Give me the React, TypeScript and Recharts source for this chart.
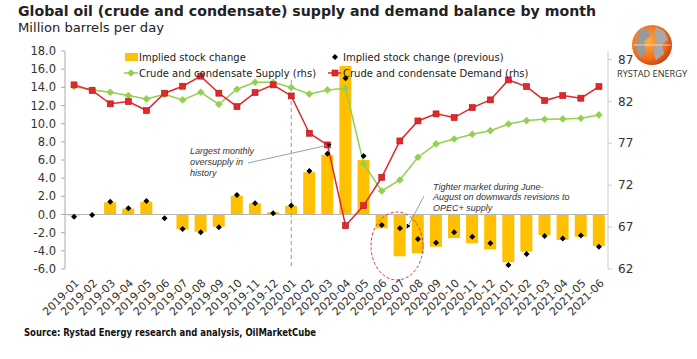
import React from "react";
import { ComposedChart, Bar, Line, XAxis, YAxis, ReferenceLine } from "recharts";

const months = [
  "2019-01", "2019-02", "2019-03", "2019-04", "2019-05", "2019-06",
  "2019-07", "2019-08", "2019-09", "2019-10", "2019-11", "2019-12",
  "2020-01", "2020-02", "2020-03", "2020-04", "2020-05", "2020-06",
  "2020-07", "2020-08", "2020-09", "2020-10", "2020-11", "2020-12",
  "2021-01", "2021-02", "2021-03", "2021-04", "2021-05", "2021-06",
];

// million barrels per day, left axis
const stockChange = [
  -0.1, 0.0, 1.35, 0.65, 1.4, -0.05, -1.63, -1.9, -1.34, 2.07, 1.23, 0.25,
  0.94, 4.65, 6.55, 16.35, 6.0, -1.52, -4.6, -4.27, -3.55, -2.6, -3.17, -3.83,
  -5.27, -4.1, -2.26, -2.8, -2.44, -3.47,
];
const prevStockChange = [
  -0.25, -0.05, 1.4, 0.7, 1.5, -0.4, -1.6, -1.95, -1.4, 2.15, 1.25, 0.15,
  1.0, 4.8, 6.7, 15.0, 6.45, -1.16, -1.5, -2.7, -3.1, -1.96, -2.44, -3.17,
  -5.56, -4.35, -2.37, -2.63, -2.3, -3.55,
];

// right axis
const supply = [
  83.76, 83.36, 83.08, 82.68, 82.29, 82.84, 82.17, 83.08, 81.65, 83.44, 84.27, 84.27,
  83.64, 82.88, 83.36, 83.56, 74.53, 71.31, 72.62, 75.33, 76.92, 77.51, 78.07, 78.5,
  79.3, 79.7, 79.86, 79.9, 79.98, 80.38,
];
const demand = [
  83.96, 83.3, 81.7, 81.97, 80.9, 82.97, 83.8, 85.0, 82.97, 81.37, 83.04, 83.96,
  82.64, 78.19, 76.8, 67.17, 69.56, 72.94, 77.27, 79.66, 80.5, 80.06, 81.25, 82.17,
  84.55, 83.76, 82.09, 82.68, 82.37, 83.76,
];

const leftTicks = [-6, -4, -2, 0, 2, 4, 6, 8, 10, 12, 14, 16, 18];
const rightTicks = [62, 67, 72, 77, 82, 87];

const data = months.map((m, i) => ({
  month: m,
  stock: stockChange[i],
  prev: prevStockChange[i],
  supply: supply[i],
  demand: demand[i],
}));

const FONT = "'DejaVu Sans', Verdana, sans-serif";
const ARIAL = "'Liberation Sans', Arial, sans-serif";
const GOLD = "#FFC000";
const GREEN = "#92D050";
const RED = "#E3262A";

const diamond = (cx: number, cy: number, r: number) =>
  `M${cx},${cy - r} L${cx + r},${cy} L${cx},${cy + r} L${cx - r},${cy} Z`;

const SupplyDot = (props: any) => {
  const { cx, cy, index } = props;
  if (cx == null || cy == null) return <g key={index} />;
  return <path key={index} d={diamond(cx, cy, 3.8)} fill={GREEN} />;
};

const DemandDot = (props: any) => {
  const { cx, cy, index } = props;
  if (cx == null || cy == null) return <g key={index} />;
  return (
    <rect key={index} x={cx - 3} y={cy - 3} width={6} height={6} fill={RED} stroke="#B01818" strokeWidth={0.6} />
  );
};

const PrevDot = (props: any) => {
  const { cx, cy, index } = props;
  if (cx == null || cy == null) return <g key={index} />;
  return <path key={index} d={diamond(cx, cy, 3)} fill="#000" />;
};

const MonthTick = (props: any) => {
  const { x, y, payload } = props;
  return (
    <g transform={`translate(${x + 3},${y + 4})`}>
      <text transform="rotate(-45)" textAnchor="end" dy="0.35em" fontSize={11} fill="#333" fontFamily={FONT}>
        {payload.value}
      </text>
    </g>
  );
};

const Overlay = () => (
  <svg width={697} height={359} style={{ position: "absolute", left: 0, top: 0, pointerEvents: "none" }}>
    <defs>
      <marker id="arr" viewBox="0 0 6 6" refX="5" refY="3" markerWidth="5" markerHeight="5" orient="auto">
        <path d="M0,0 L6,3 L0,6 Z" fill="#000" />
      </marker>
      <radialGradient id="globe" cx="40%" cy="40%" r="65%">
        <stop offset="0%" stopColor="#FBB040" />
        <stop offset="70%" stopColor="#F26B1D" />
        <stop offset="100%" stopColor="#C0400A" />
      </radialGradient>
    </defs>

    <text x={18} y={16} fontSize={14.5} fontWeight="bold" fill="#222" fontFamily={FONT} textLength={578} lengthAdjust="spacingAndGlyphs">
      Global oil (crude and condensate) supply and demand balance by month
    </text>
    <text x={18} y={32} fontSize={12} fill="#222" fontFamily={FONT} textLength={146} lengthAdjust="spacingAndGlyphs">
      Million barrels per day
    </text>

    {/* legend */}
    <rect x={125} y={53} width={13} height={8} fill={GOLD} />
    <text x={139} y={60.5} fontSize={10} fill="#222" fontFamily={FONT}>Implied stock change</text>
    <line x1={124} y1={73} x2={138} y2={73} stroke={GREEN} strokeWidth={1.5} />
    <path d={diamond(131, 73, 3.8)} fill={GREEN} />
    <text x={139} y={76.5} fontSize={10} fill="#222" fontFamily={FONT}>Crude and condensate Supply (rhs)</text>
    <path d={diamond(335, 57, 3)} fill="#000" />
    <text x={343} y={60.5} fontSize={10} fill="#222" fontFamily={FONT}>Implied stock change (previous)</text>
    <line x1={328} y1={73} x2={341} y2={73} stroke={RED} strokeWidth={1.5} />
    <rect x={332} y={70} width={6} height={6} fill={RED} stroke="#B01818" strokeWidth={0.6} />
    <text x={343} y={76.5} fontSize={10} fill="#222" fontFamily={FONT}>Crude and condensate Demand (rhs)</text>

    {/* annotations */}
    <g fontFamily={ARIAL} fontStyle="italic" fontSize={9} fill="#333">
      <text x={190} y={153.5}>Largest monthly</text>
      <text x={190} y={164.5}>oversupply in</text>
      <text x={190} y={175.5}>history</text>
      <text x={433} y={189.5}>Tighter market during June-</text>
      <text x={433} y={200}>August on downwards revisions to</text>
      <text x={433} y={210.5}>OPEC+ supply</text>
    </g>
    <line x1={248} y1={163} x2={331} y2={144.5} stroke="#8A97A8" strokeWidth={0.9} markerEnd="url(#arr)" />
    <line x1={424} y1={196} x2={407} y2={228} stroke="#8A97A8" strokeWidth={0.9} markerEnd="url(#arr)" />
    <ellipse cx={397} cy={246} rx={26} ry={34} fill="none" stroke="#D0393B" strokeWidth={1} strokeDasharray="3 2" />

    {/* logo */}
    <circle cx={652} cy={45} r={20} fill="url(#globe)" />
    <path d="M640,30 L648,28 L650,36 L644,42 L646,52 L640,58 L636,48 L637,38 Z" fill="#9A9A9A" />
    <path d="M656,27 L664,31 L668,40 L662,44 L664,54 L656,60 L653,50 L657,42 L654,34 Z" fill="#A8A8A8" />
    <path d="M633,45 L671,45" stroke="#FFFFFF" strokeWidth={1} opacity={0.6} />
    <text x={617} y={77} fontSize={9} fill="#333" fontFamily="'Open Sans', sans-serif" textLength={70} lengthAdjust="spacingAndGlyphs">
      RYSTAD ENERGY
    </text>

    <text x={24} y={336} fontSize={10} fontWeight="bold" fill="#111" fontFamily={FONT} textLength={292} lengthAdjust="spacingAndGlyphs">
      Source: Rystad Energy research and analysis, OilMarketCube
    </text>
  </svg>
);

export default function App() {
  return (
    <div style={{ position: "absolute", left: 0, top: 0, width: 697, height: 359, background: "#fff" }}>
      <ComposedChart width={697} height={359} data={data} margin={{ top: 51, right: 49, bottom: 30, left: 8 }} barCategoryGap="16%">
        <XAxis dataKey="month" interval={0} tick={<MonthTick />} axisLine={false} tickLine={false} height={60} />
        <YAxis
          yAxisId="left"
          domain={[-6, 18]}
          ticks={leftTicks}
          interval={0}
          tickFormatter={(v: number) => v.toFixed(1)}
          width={57}
          tick={{ fontSize: 11.5, fill: "#333", fontFamily: FONT }}
          axisLine={{ stroke: "#aaa" }}
          tickLine={{ stroke: "#aaa" }}
          tickSize={4}
          tickMargin={5}
          allowDataOverflow
        />
        <YAxis
          yAxisId="right"
          orientation="right"
          domain={[62, 88]}
          ticks={rightTicks}
          interval={0}
          width={40}
          tick={{ fontSize: 12, fill: "#333", fontFamily: FONT }}
          axisLine={{ stroke: "#ccc" }}
          tickLine={{ stroke: "#ccc" }}
          tickSize={4}
          tickMargin={6}
          allowDataOverflow
        />
        <ReferenceLine yAxisId="left" y={0} stroke="#b5b5b5" />
        <ReferenceLine
          yAxisId="left"
          segment={[{ x: "2020-01", y: 14.8 }, { x: "2020-01", y: -6 }]}
          stroke="#999"
          strokeDasharray="4 3"
        />
        <Bar yAxisId="left" dataKey="stock" fill={GOLD} isAnimationActive={false} />
        <Line yAxisId="right" dataKey="supply" stroke={GREEN} strokeWidth={1.5} dot={<SupplyDot />} activeDot={false} isAnimationActive={false} />
        <Line yAxisId="right" dataKey="demand" stroke={RED} strokeWidth={1.5} dot={<DemandDot />} activeDot={false} isAnimationActive={false} />
        <Line yAxisId="left" dataKey="prev" stroke="none" dot={<PrevDot />} activeDot={false} isAnimationActive={false} />
      </ComposedChart>
      <Overlay />
    </div>
  );
}
